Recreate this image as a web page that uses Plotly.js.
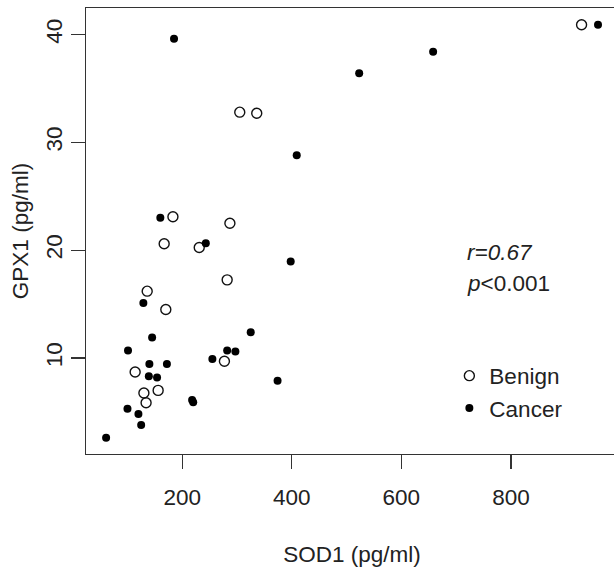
<!DOCTYPE html>
<html>
<head>
<meta charset="utf-8">
<script src="https://cdn.plot.ly/plotly-3.0.1.min.js"></script>
<style>
html, body { margin: 0; padding: 0; overflow: hidden; background: #fff; }
#chart { width: 630px; height: 568px; }
</style>
</head>
<body>
<div id="chart"></div>
<script>
// Benign group
var benignSOD1 = [305, 336, 929, 183, 287, 167, 231, 282, 136, 170, 277, 114, 156, 130, 134];
var benignGPX1 = [32.8, 32.7, 40.9, 23.1, 22.5, 20.6, 20.25, 17.25, 16.2, 14.5, 9.7, 8.7, 7.0, 6.75, 5.85];
// Cancer group
var cancerSOD1 = [185, 409, 959, 658, 523, 160, 243, 398, 129, 145, 325, 101, 282, 297, 255, 140, 172, 139, 154, 374, 218, 220, 100, 120, 125, 61];
var cancerGPX1 = [39.6, 28.8, 40.9, 38.4, 36.4, 23.0, 20.65, 18.95, 15.1, 11.9, 12.4, 10.7, 10.7, 10.6, 9.9, 9.45, 9.45, 8.3, 8.2, 7.9, 6.1, 5.9, 5.3, 4.8, 3.8, 2.6];

var xTicks = [200, 400, 600, 800];
var yTicks = [10, 20, 30, 40];

var FONT = 'Liberation Sans, Arial, Helvetica, sans-serif';
var FS = 22.5;

var traces = [
  { x: benignSOD1, y: benignGPX1, type: 'scatter', mode: 'markers', name: 'Benign',
    marker: { symbol: 'circle-open', size: 10, color: '#111', line: { width: 1.4, color: '#111' } } },
  { x: cancerSOD1, y: cancerGPX1, type: 'scatter', mode: 'markers', name: 'Cancer',
    marker: { symbol: 'circle', size: 8, color: '#000' } }
];

var axisCommon = {
  showline: true, mirror: true, linecolor: '#333', linewidth: 1.3,
  showgrid: false, zeroline: false,
  ticks: 'outside', ticklen: 14, tickwidth: 1.2, tickcolor: '#333',
  tickfont: { family: FONT, size: FS, color: '#222' }, tickmode: 'array'
};

var layout = {
  width: 630, height: 568,
  margin: { l: 86, r: 12, t: 8, b: 114 },
  paper_bgcolor: '#fff', plot_bgcolor: '#fff',
  showlegend: true,
  legend: { x: 0.6830, y: 0.223, xanchor: 'left', yanchor: 'top',
    font: { family: FONT, size: FS, color: '#222' }, bgcolor: 'rgba(0,0,0,0)', itemwidth: 30 },
  xaxis: Object.assign({}, axisCommon, {
    range: [24.3, 995.5], tickvals: xTicks, ticktext: xTicks.map(String), ticklabelstandoff: 9,
    title: { text: 'SOD1 (pg/ml)', font: { family: FONT, size: FS, color: '#222' }, standoff: 37 } }),
  yaxis: Object.assign({}, axisCommon, {
    range: [1.1, 42.46], tickvals: yTicks, ticktext: yTicks.map(String), tickangle: -90, ticklabelstandoff: 0,
    title: { text: 'GPX1 (pg/ml)', font: { family: FONT, size: FS, color: '#222' }, standoff: 6 } }),
  annotations: [
    { xref: 'paper', yref: 'paper', x: 0.7125, y: 0.4507, xanchor: 'left', yanchor: 'middle',
      text: '<i>r=0.67</i>', showarrow: false, font: { family: FONT, size: FS, color: '#222' } },
    { xref: 'paper', yref: 'paper', x: 0.7125, y: 0.3834, xanchor: 'left', yanchor: 'middle',
      text: '<i>p</i>&lt;0.001', showarrow: false, font: { family: FONT, size: FS, color: '#222' } }
  ]
};

Plotly.newPlot('chart', traces, layout, { displayModeBar: false, staticPlot: true });
</script>
</body>
</html>
